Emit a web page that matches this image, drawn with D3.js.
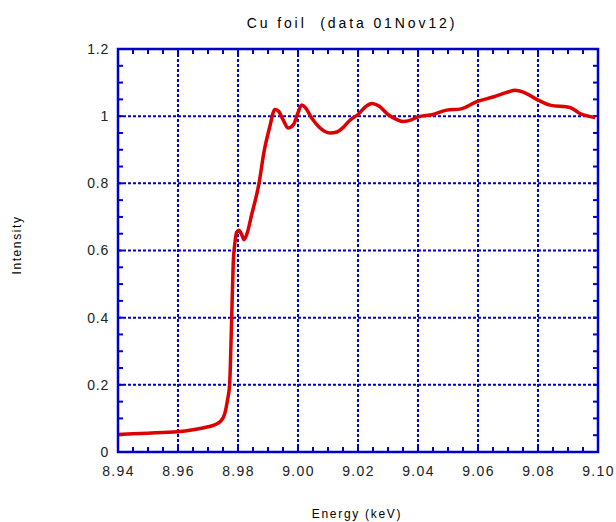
<!DOCTYPE html>
<html>
<head>
<meta charset="utf-8">
<script src="https://cdn.jsdelivr.net/npm/d3@7"></script>
<style>
	body { margin: 0; background: #fff; }
	text { font-family: "Liberation Sans", Arial, sans-serif; fill: #000; }
</style>
</head>
<body>
<div id="chart"></div>
<script>
// Cu K-edge
const energy = [8.940, 8.945, 8.950, 8.955, 8.960, 8.965, 8.970, 8.972, 8.974, 8.9755, 8.9765,
	8.9772, 8.9779, 8.9784, 8.9790, 8.9796, 8.9803, 8.9812, 8.9820, 8.9830, 8.9845,
	8.9870, 8.9887, 8.9905, 8.9923, 8.9935, 8.9950, 8.9967, 8.9985, 9.0000, 9.0012,
	9.0025, 9.0045, 9.0070, 9.0107, 9.0130, 9.0150, 9.0173, 9.0200, 9.0225, 9.0246,
	9.0270, 9.0300, 9.0330, 9.0350, 9.0380, 9.0400, 9.0450, 9.0496, 9.0540, 9.0596,
	9.0650, 9.0700, 9.0723, 9.0760, 9.0796, 9.0840, 9.0907, 9.0940, 9.0990];
const intensity = [0.052, 0.054, 0.056, 0.058, 0.060, 0.066, 0.075, 0.080, 0.090, 0.112, 0.155,
	0.200, 0.400, 0.560, 0.625, 0.655, 0.660, 0.648, 0.632, 0.650, 0.705,
	0.800, 0.895, 0.965, 1.020, 1.015, 0.990, 0.965, 0.975, 1.010, 1.033,
	1.025, 0.995, 0.968, 0.950, 0.953, 0.966, 0.988, 1.005, 1.028, 1.038,
	1.030, 1.005, 0.990, 0.984, 0.990, 0.998, 1.005, 1.018, 1.021, 1.043,
	1.057, 1.072, 1.077, 1.068, 1.050, 1.033, 1.026, 1.008, 0.996];
const xTicks = [8.94, 8.96, 8.98, 9.00, 9.02, 9.04, 9.06, 9.08, 9.10];
const yTicks = [0, 0.2, 0.4, 0.6, 0.8, 1, 1.2];

const width = 616, height = 522;
const margin = { top: 49, right: 18, bottom: 70, left: 118 };
const innerW = width - margin.left - margin.right;
const innerH = height - margin.top - margin.bottom;

const data = energy.map((e, i) => ({ e: e, v: intensity[i] }));

const x = d3.scaleLinear().domain([8.94, 9.10]).range([0, innerW]);
const y = d3.scaleLinear().domain([0, 1.2]).range([innerH, 0]);

const $svg = d3.select('#chart').append('svg')
	.attr('width', width)
	.attr('height', height);

const $g = $svg.append('g')
	.attr('transform', `translate(${margin.left},${margin.top})`);

// dotted grid
$g.append('g')
	.selectAll('line')
	.data(xTicks.slice(1, -1))
	.enter()
	.append('line')
	.attr('x1', d => x(d)).attr('x2', d => x(d))
	.attr('y1', 0).attr('y2', innerH)
	.attr('stroke', '#0000cc')
	.attr('stroke-width', 2)
	.attr('stroke-dasharray', '3,2');

$g.append('g')
	.selectAll('line')
	.data(yTicks.slice(1, -1))
	.enter()
	.append('line')
	.attr('y1', d => y(d)).attr('y2', d => y(d))
	.attr('x1', 0).attr('x2', innerW)
	.attr('stroke', '#0000cc')
	.attr('stroke-width', 2)
	.attr('stroke-dasharray', '3,2');

// minor ticks on all four sides, pointing in
const xMinor = d3.range(0, 33).map(i => 8.94 + i * 0.005);
const yMinor = d3.range(0, 25).map(i => i * 0.05);
const tickLen = 5;
const $ticks = $g.append('g').attr('stroke', '#0000cc').attr('stroke-width', 2);
xMinor.forEach(d => {
	$ticks.append('line').attr('x1', x(d)).attr('x2', x(d)).attr('y1', innerH).attr('y2', innerH - tickLen);
	$ticks.append('line').attr('x1', x(d)).attr('x2', x(d)).attr('y1', 0).attr('y2', tickLen);
});
yMinor.forEach(d => {
	$ticks.append('line').attr('y1', y(d)).attr('y2', y(d)).attr('x1', 0).attr('x2', tickLen);
	$ticks.append('line').attr('y1', y(d)).attr('y2', y(d)).attr('x1', innerW).attr('x2', innerW - tickLen);
});

// curve
const line = d3.line()
	.x(d => x(d.e))
	.y(d => y(d.v))
	.curve(d3.curveMonotoneX);

$g.append('path')
	.datum(data)
	.attr('fill', 'none')
	.attr('stroke', '#dd0000')
	.attr('stroke-width', 3.5)
	.attr('stroke-linejoin', 'round')
	.attr('d', line);

// frame
$g.append('rect')
	.attr('width', innerW)
	.attr('height', innerH)
	.attr('fill', 'none')
	.attr('stroke', '#0000cc')
	.attr('stroke-width', 2.5);

// tick labels
const xAxis = d3.axisBottom(x).tickValues(xTicks).tickSize(0).tickPadding(14).tickFormat(d3.format('.2f'));
const $xa = $g.append('g').attr('transform', `translate(0,${innerH})`).call(xAxis);
$xa.select('.domain').remove();
$xa.selectAll('text').style('font-size', '14px').style('letter-spacing', '1.3px')
	.style('font-family', '"Liberation Sans", Arial, sans-serif').style('fill', '#222');

const yAxis = d3.axisLeft(y).tickValues(yTicks).tickSize(0).tickPadding(9).tickFormat(d => String(+d.toFixed(1)));
const $ya = $g.append('g').call(yAxis);
$ya.select('.domain').remove();
$ya.selectAll('text').style('font-size', '14px').style('letter-spacing', '0.8px')
	.style('font-family', '"Liberation Sans", Arial, sans-serif').style('fill', '#222');

// titles
$svg.append('text')
	.attr('x', 352).attr('y', 28)
	.attr('text-anchor', 'middle')
	.style('font-size', '14px')
	.style('letter-spacing', '2.9px')
	.style('white-space', 'pre')
	.text('Cu foil  (data 01Nov12)');

$svg.append('text')
	.attr('x', 357).attr('y', 518)
	.attr('text-anchor', 'middle')
	.style('font-size', '12px')
	.style('letter-spacing', '1.7px')
	.text('Energy (keV)');

$svg.append('text')
	.attr('transform', 'translate(21,245) rotate(-90)')
	.attr('text-anchor', 'middle')
	.style('font-size', '12px')
	.style('letter-spacing', '1.6px')
	.text('Intensity');
</script>
</body>
</html>
